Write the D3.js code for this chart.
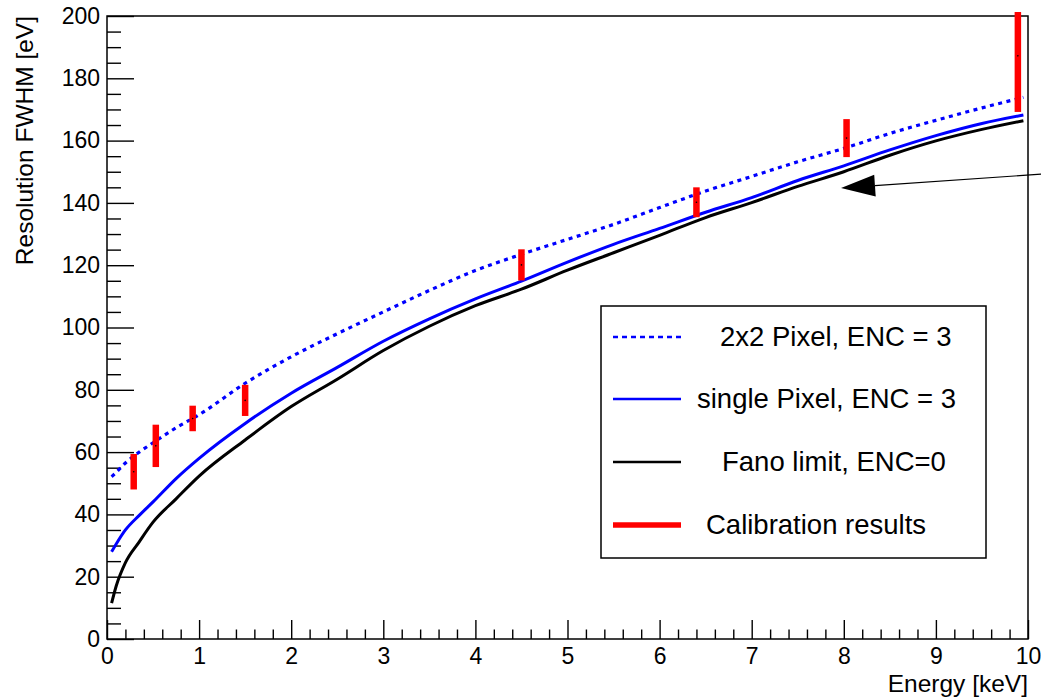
<!DOCTYPE html>
<html>
<head>
<meta charset="utf-8">
<title>Resolution FWHM vs energy</title>
<script src="https://d3js.org/d3.v7.min.js"></script>
<style>
body{margin:0;background:#fff;}
svg{font-family:"Liberation Sans",Arial,Helvetica,sans-serif;}
.axis text{font-size:23px;fill:#000;}
.axis line{stroke:#000;stroke-width:1.4;}
.axis path{display:none;}
.frame{fill:none;stroke:#000;stroke-width:1.5;}
.title{font-size:24.5px;fill:#000;}
.legend-box{fill:#fff;stroke:#000;stroke-width:1.5;}
.legend text{font-size:27.5px;fill:#000;}
</style>
</head>
<body>
<script>
// energies [keV] at which the three curves were read
var energy = [0.05,0.1,0.2,0.35,0.5,0.75,1,1.5,2,2.5,3,3.5,4,4.5,5,5.5,6,6.5,7,7.5,8,8.5,9,9.5,9.95];
// FWHM [eV]
var pixel2x2 = [52.1,53.5,56.5,60.0,63.0,67.8,72.0,82.1,90.6,98.0,105.0,111.9,118.3,123.5,128.3,133.1,138.5,143.8,148.5,153.2,157.5,162.3,166.5,170.5,173.9];
var singlePixel = [28.0,30.5,35.0,39.7,44.0,51.5,58.0,69.2,78.9,87.2,95.6,102.8,109.2,114.9,121.0,126.7,131.8,137.0,141.7,147.2,151.9,157.0,161.6,165.5,168.2];
var fanoLimit = [11.5,17.0,24.5,31.2,37.5,45.0,52.3,63.9,74.6,83.4,92.6,100.4,107.0,112.3,118.4,124.0,129.6,135.3,140.1,145.3,150.0,155.3,159.9,163.6,166.4];

// calibration points
var calEnergy = [0.29,0.53,0.93,1.50,4.50,6.40,8.03,9.89];
var calFwhm = [53.7,62.0,70.8,76.6,120.1,140.2,160.8,187.2];
var calErr = [5.7,6.8,4.1,5.0,5.0,4.8,6.1,18.0];

var xTicks = [0,1,2,3,4,5,6,7,8,9,10];
var yTicks = [0,20,40,60,80,100,120,140,160,180,200];

var legendLabels = ['2x2 Pixel, ENC = 3','single Pixel, ENC = 3','Fano limit, ENC=0','Calibration results'];

// arrow annotation, [energy, fwhm]
var arrowFrom = [10.18,149.3];
var arrowTo = [7.97,144.8];

var width = 1041, height = 698;
var svg = d3.select('body').append('svg').attr('width',width).attr('height',height);

var x = d3.scaleLinear().domain([0,10]).range([107,1028]);
var y = d3.scaleLinear().domain([0,200]).range([639,16]);

svg.append('defs').append('clipPath').attr('id','clip')
	.append('rect').attr('x',107).attr('y',12).attr('width',921).attr('height',627);

// axes
var xMinor = d3.range(0,10.001,0.2).filter(function(v){ return Math.abs(v-Math.round(v))>1e-6; });
var yMinor = d3.range(0,200.001,5).filter(function(v){ return v%20!==0; });

svg.append('g').attr('class','axis').attr('transform','translate(0,'+y(0)+')')
	.call(d3.axisBottom(x).tickValues(xMinor).tickFormat('').tickSizeInner(-9.5).tickSizeOuter(0));
svg.append('g').attr('class','axis').attr('transform','translate(0,'+y(0)+')')
	.call(d3.axisBottom(x).tickValues(xTicks).tickFormat(d3.format('d')).tickSizeInner(-19).tickSizeOuter(0).tickPadding(9));

svg.append('g').attr('class','axis').attr('transform','translate('+x(0)+',0)')
	.call(d3.axisLeft(y).tickValues(yMinor).tickFormat('').tickSizeInner(-14).tickSizeOuter(0));
svg.append('g').attr('class','axis').attr('transform','translate('+x(0)+',0)')
	.call(d3.axisLeft(y).tickValues(yTicks).tickFormat(d3.format('d')).tickSizeInner(-27).tickSizeOuter(0).tickPadding(7));

svg.append('rect').attr('class','frame')
	.attr('x',x(0)).attr('y',y(200)).attr('width',x(10)-x(0)).attr('height',y(0)-y(200));

svg.append('text').attr('class','title')
	.attr('transform','translate(33,'+y(200)+') rotate(-90)')
	.attr('text-anchor','end').text('Resolution FWHM [eV]');
svg.append('text').attr('class','title')
	.attr('x',x(10)).attr('y',692).attr('text-anchor','end').text('Energy [keV]');

// curves
var plot = svg.append('g').attr('clip-path','url(#clip)');
var line = d3.line().x(function(d){ return x(d[0]); }).y(function(d){ return y(d[1]); }).curve(d3.curveMonotoneX);
function pairs(vals){ return energy.map(function(e,i){ return [e,vals[i]]; }); }

plot.append('path').datum(pairs(fanoLimit)).attr('d',line)
	.attr('fill','none').attr('stroke','#000').attr('stroke-width',3);
plot.append('path').datum(pairs(singlePixel)).attr('d',line)
	.attr('fill','none').attr('stroke','#0000ff').attr('stroke-width',3);
plot.append('path').datum(pairs(pixel2x2)).attr('d',line)
	.attr('fill','none').attr('stroke','#0000ff').attr('stroke-width',3.2).attr('stroke-dasharray','4,4.5');

// calibration error bars
var cal = calEnergy.map(function(e,i){ return {e:e,v:calFwhm[i],err:calErr[i]}; });
plot.selectAll('line.cal').data(cal).enter().append('line').attr('class','cal')
	.attr('x1',function(d){ return x(d.e); }).attr('x2',function(d){ return x(d.e); })
	.attr('y1',function(d){ return y(d.v-d.err); }).attr('y2',function(d){ return y(d.v+d.err); })
	.attr('stroke','#ff0000').attr('stroke-width',6.5);
plot.selectAll('circle.cal').data(cal).enter().append('circle').attr('class','cal')
	.attr('cx',function(d){ return x(d.e); }).attr('cy',function(d){ return y(d.v); })
	.attr('r',0.8).attr('fill','#000');

// arrow
var ax0 = x(arrowFrom[0]), ay0 = y(arrowFrom[1]), ax1 = x(arrowTo[0]), ay1 = y(arrowTo[1]);
var dx = ax1-ax0, dy = ay1-ay0, len = Math.sqrt(dx*dx+dy*dy), ux = dx/len, uy = dy/len;
var headLen = 34, headHalf = 11;
var bx = ax1-ux*headLen, by = ay1-uy*headLen;
svg.append('line').attr('x1',ax0).attr('y1',ay0).attr('x2',bx).attr('y2',by)
	.attr('stroke','#000').attr('stroke-width',1.2);
svg.append('polygon')
	.attr('points',[[ax1,ay1],[bx-uy*headHalf,by+ux*headHalf],[bx+uy*headHalf,by-ux*headHalf]].map(function(p){ return p.join(','); }).join(' '))
	.attr('fill','#000');

// legend
var legend = svg.append('g').attr('class','legend');
legend.append('rect').attr('class','legend-box').attr('x',601).attr('y',306).attr('width',385).attr('height',252);
var rowY = [337,399,462,525];
var textX = [720,697,722,706];
var styles = [
	{stroke:'#0000ff',w:2.5,dash:'5,4'},
	{stroke:'#0000ff',w:2.5,dash:null},
	{stroke:'#000',w:2.5,dash:null},
	{stroke:'#ff0000',w:5.5,dash:null}
];
legendLabels.forEach(function(lab,i){
	legend.append('line').attr('x1',613).attr('x2',681).attr('y1',rowY[i]).attr('y2',rowY[i])
		.attr('stroke',styles[i].stroke).attr('stroke-width',styles[i].w)
		.attr('stroke-dasharray',styles[i].dash);
	legend.append('text').attr('x',textX[i]).attr('y',rowY[i]+9).text(lab);
});
</script>
</body>
</html>
